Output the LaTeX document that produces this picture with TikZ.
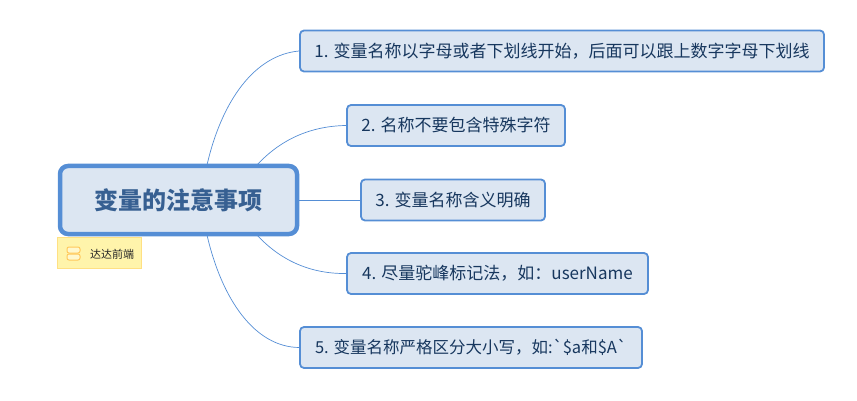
\documentclass[tikz,border=0pt]{standalone}
\usepackage{fontspec}
\newfontfamily\cjk{Noto Sans CJK SC}
\definecolor{boxfill}{HTML}{DCE6F2}
\definecolor{boxline}{HTML}{558ED5}
\definecolor{boxtext}{HTML}{17375E}
\definecolor{roottext}{HTML}{376092}
\definecolor{notefill}{HTML}{FFF4AB}
\definecolor{noteline}{HTML}{FFE083}
\definecolor{noteicon}{HTML}{FFC85A}
\tikzset{
	topicbox/.style={draw=boxline, fill=boxfill, line width=1.8pt, rounded corners=4pt, minimum height=41pt, inner sep=0pt, text=boxtext, font=\cjk\fontsize{17}{19}\selectfont},
	rootbox/.style={draw=boxline, fill=boxfill, line width=4.5pt, rounded corners=8pt, minimum width=237pt, minimum height=68pt, inner sep=0pt, text=roottext, font=\cjk\bfseries\fontsize{24}{28}\selectfont},
	notebox/.style={draw=noteline, fill=notefill, line width=0.8pt, minimum width=84pt, minimum height=31pt, inner sep=0pt},
	branch/.style={draw=boxline, line width=0.7pt}
}
\begin{document}
\begin{tikzpicture}[x=1pt,y=-1pt]
	\useasboundingbox (0,0) rectangle (857,401);
	%branches go under the boxes
	\coordinate (upperA) at (207,165);
	\coordinate (upperB) at (257,165);
	\coordinate (lowerB) at (257,235);
	\coordinate (lowerA) at (207,235);
	\node[topicbox, minimum width=524pt] (topicA) at (562,51) {1. 变量名称以字母或者下划线开始，后面可以跟上数字字母下划线};
	\node[topicbox, minimum width=218pt] (topicB) at (456,125.5) {2. 名称不要包含特殊字符};
	\node[topicbox, minimum width=184pt] (topicC) at (453,200) {3. 变量名称含义明确};
	\node[topicbox, minimum width=301pt] (topicD) at (497.5,273.5) {4. 尽量驼峰标记法，如：userName};
	\node[topicbox, minimum width=342pt, font=\cjk\fontsize{16.5}{19}\selectfont] (topicE) at (471,347.5) {5. 变量名称严格区分大小写，如:`\$a和\$A`};
	\node[rootbox] (root) at (178.5,200) {变量的注意事项};
	\draw[branch] (upperA) .. controls (222,100) and (255,55) .. (topicA.west);
	\draw[branch] (upperB) .. controls (280,140) and (310,126) .. (topicB.west);
	\draw[branch] (root.east) -- (topicC.west);
	\draw[branch] (lowerB) .. controls (280,260) and (310,274) .. (topicD.west);
	\draw[branch] (lowerA) .. controls (222,300) and (255,347) .. (topicE.west);
	%note under the root
	\node[notebox] (note) at (99,253) {};
	\node[anchor=west, inner sep=0pt, text=black!85, font=\cjk\fontsize{11}{13}\selectfont] (notetext) at (90,254) {达达前端};
	\draw[noteicon, fill=notefill!60, line width=1pt, rounded corners=2pt] (67,247) rectangle (80,253);
	\draw[noteicon, fill=notefill!60, line width=1pt, rounded corners=2pt] (67,254) rectangle (80,260);
\end{tikzpicture}
\end{document}
